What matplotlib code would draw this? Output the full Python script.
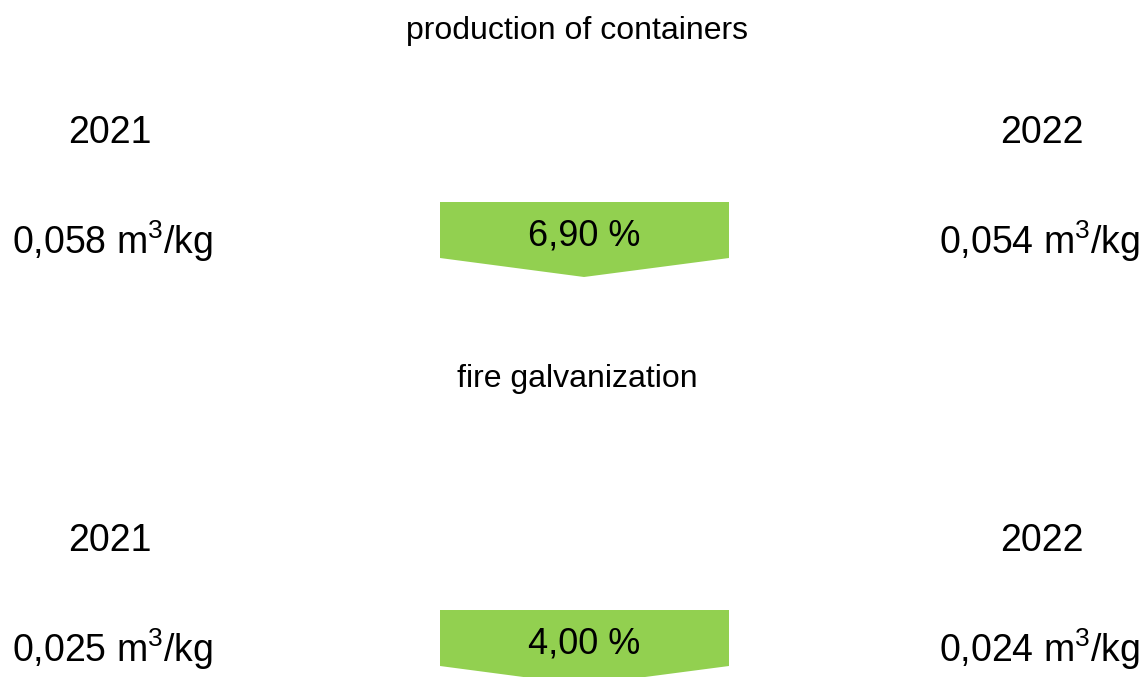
import matplotlib
matplotlib.use("Agg")
from matplotlib import pyplot as plt
from matplotlib.patches import Polygon

plt.rcParams['font.family'] = ['Liberation Sans', 'DejaVu Sans']
plt.rcParams['mathtext.fontset'] = 'custom'
plt.rcParams['mathtext.rm'] = 'Liberation Sans'
plt.rcParams['mathtext.it'] = 'Liberation Sans'
plt.rcParams['mathtext.default'] = 'rm'

# data
processes = ["production of containers", "fire galvanization"]
years = ["2021", "2022"]
values_2021 = [0.058, 0.025]
values_2022 = [0.054, 0.024]
changes = [6.90, 4.00]
unit = r"m$^3$/kg"

GREEN = "#92D050"


def fmt(v, nd):
    return f"{v:.{nd}f}".replace(".", ",")


fig = plt.figure(figsize=(11.45, 6.77), dpi=100)
ax = fig.add_axes([0, 0, 1, 1])
ax.set_xlim(0, 1145)
ax.set_ylim(677, 0)
ax.axis("off")

block_top = [0, 408]
title_y = [31, 379]
for i, name in enumerate(processes):
    y0 = block_top[i]
    ax.text(577, title_y[i], name, ha="center", va="center", fontsize=23)
    ax.text(110, y0 + 143, years[0], ha="center", va="baseline", fontsize=27)
    ax.text(1042, y0 + 143, years[1], ha="center", va="baseline", fontsize=27)
    ax.text(12, y0 + 254.5, fmt(values_2021[i], 3) + " " + unit,
            ha="left", va="baseline", fontsize=27)
    ax.text(1140, y0 + 254.5, fmt(values_2022[i], 3) + " " + unit,
            ha="right", va="baseline", fontsize=27)

    # down arrow (chevron) with percentage change
    arrow = Polygon([(440, y0 + 202), (729, y0 + 202), (729, y0 + 258),
                     (584, y0 + 277), (440, y0 + 258)],
                    closed=True, facecolor=GREEN, edgecolor="none")
    ax.add_patch(arrow)
    ax.text(584, y0 + 245.5, fmt(changes[i], 2) + " %", ha="center", va="baseline",
            fontsize=26)

fig.savefig("out.png", dpi=100)
